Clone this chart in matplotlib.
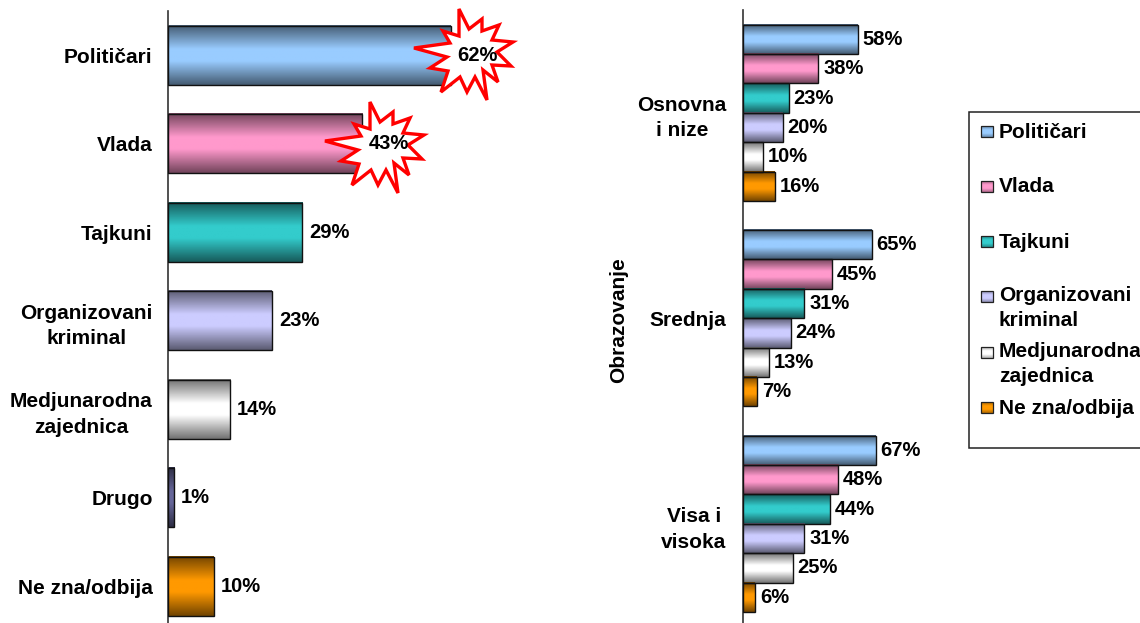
import matplotlib
matplotlib.use('Agg')
import matplotlib.pyplot as plt
import numpy as np
from matplotlib.colors import LinearSegmentedColormap
from matplotlib.patches import Polygon, Rectangle
from matplotlib.transforms import Affine2D

plt.rcParams['font.family'] = ['Liberation Sans', 'DejaVu Sans']
plt.rcParams['font.weight'] = 'bold'

W, H = 1140, 623

left_cats = ['Političari', 'Vlada', 'Tajkuni', 'Organizovani\nkriminal',
             'Medjunarodna\nzajednica', 'Drugo', 'Ne zna/odbija']
left_vals = [62, 42.6, 29.4, 22.8, 13.6, 1.4, 10]
left_colors = ['#99CCFF', '#FF99CC', '#33CCCC', '#CCCCFF', '#FFFFFF', '#666699', '#FF9900']

groups = ['Osnovna\ni nize', 'Srednja', 'Visa i\nvisoka']
series = ['Političari', 'Vlada', 'Tajkuni', 'Organizovani\nkriminal',
          'Medjunarodna\nzajednica', 'Ne zna/odbija']
osnovna = [58, 38, 23, 20, 10, 16]
srednja = [65, 45, 31, 24, 13, 7]
visoka = [67, 48, 44, 31, 25, 6]
series_colors = ['#99CCFF', '#FF99CC', '#33CCCC', '#CCCCFF', '#FFFFFF', '#FF9900']

# star outline, pixels relative to its centre
star = np.array([(-10, -46), (0, -26), (13, -36), (13, -24), (30, -30), (23, -15),
                 (44, -13), (28, -3), (42, 11), (23, 10), (29, 27), (14, 15),
                 (18, 45), (6, 22), (-2, 37), (-9, 22), (-28, 37), (-21, 16),
                 (-39, 13), (-22, 2), (-55, -7), (-19, -12), (-26, -24), (-10, -19)])

fs = 15
fs_val = 14.5
ls = 1.45
px = Affine2D().scale(1, -1).translate(0, H)


def grad_cmap(c):
    rgb = np.array(matplotlib.colors.to_rgb(c))
    dark = rgb * 0.45
    return LinearSegmentedColormap.from_list('g', [(0, dark), (0.4, rgb), (0.6, rgb), (1, dark)])


def gradient_bar(ax, y, v, h, c):
    g = np.linspace(0, 1, 64).reshape(-1, 1)
    ax.imshow(g, cmap=grad_cmap(c), extent=[0, v, y + h / 2, y - h / 2], aspect='auto', zorder=2)
    ax.barh(y, v, height=h, facecolor='none', edgecolor='#111111', linewidth=1.0, zorder=3)


def style(ax):
    for s in ['top', 'right', 'bottom']:
        ax.spines[s].set_visible(False)
    ax.spines['left'].set_linewidth(1.2)
    ax.spines['left'].set_color('#333333')
    ax.set_xticks([])
    ax.tick_params(axis='y', length=0)
    ax.patch.set_alpha(0)


fig = plt.figure(figsize=(W / 100, H / 100), dpi=100, facecolor='white')

# left panel, runs a little past the bottom edge
ax1 = fig.add_axes([168 / W, 1 - 630.5 / H, 350 / W, 619.5 / H])
y1 = np.arange(len(left_cats))
for y, v, c in zip(y1, left_vals, left_colors):
    gradient_bar(ax1, y, v, 0.667, c)
    ax1.text(v + 1.5, y, f'{v:.0f}%', va='center', ha='left', fontsize=fs_val, color='black', zorder=6)
ax1.set_xlim(0, 350 / 4.56)
ax1.set_ylim(len(left_cats) - 0.5, -0.5)
ax1.set_yticks(y1)
ax1.set_yticklabels(left_cats, fontsize=fs, ma='center', linespacing=ls)
for t in ax1.get_yticklabels():
    t.set_y(t.get_position()[1])
ax1.tick_params(axis='y', pad=11)
style(ax1)

for cx, cy in [(469, 55), (380, 148)]:
    ax1.add_patch(Polygon(star + [cx, cy], closed=True, facecolor='white', edgecolor='#FF0000',
                          linewidth=2.4, transform=px, zorder=5, clip_on=False))

# right panel
ax2 = fig.add_axes([743 / W, 1 - 626.5 / H, 200 / W, 616.5 / H])
step = 29.4 / 205.5
for gi, vals in enumerate([osnovna, srednja, visoka]):
    for si, (v, c) in enumerate(zip(vals, series_colors)):
        y = gi + (si - 2.5) * step
        gradient_bar(ax2, y, v, step, c)
        ax2.text(v + 2.5, y, f'{v}%', va='center', ha='left', fontsize=fs_val, color='black', zorder=6)
ax2.set_xlim(0, 200 / 1.98)
ax2.set_ylim(2.5, -0.5)
ax2.set_yticks(range(len(groups)))
ax2.set_yticklabels(groups, fontsize=fs, ma='center', linespacing=ls)
ax2.tick_params(axis='y', pad=12)
ax2.set_ylabel('Obrazovanje', fontsize=fs, fontweight='bold', labelpad=0)
ax2.yaxis.set_label_coords((628 - 743) / 200, 0.497)
style(ax2)

# legend drawn by hand, it runs off the right edge like the original
fig.add_artist(Rectangle((969, 112), 200, 336, facecolor='white', edgecolor='#222222',
                         linewidth=1.1, transform=px))
leg_y = [131, 186, 241, 296, 352, 407]
leg_text_y = [132, 187, 242, 308, 364, 408]
for name, c, sy, ty in zip(series, series_colors, leg_y, leg_text_y):
    cmap = grad_cmap(c)
    for k in range(11):
        fig.add_artist(Rectangle((981, sy - 5.5 + k), 12, 1, facecolor=cmap(k / 10 * 0.6 + 0.2),
                                 edgecolor='none', transform=px))
    fig.add_artist(Rectangle((981, sy - 5.5), 12, 11, facecolor='none', edgecolor='#222222',
                             linewidth=0.9, transform=px))
    fig.text(999 / W, 1 - ty / H, name, fontsize=fs, va='center', ha='left', linespacing=ls)

fig.savefig('out.png', dpi=100)
